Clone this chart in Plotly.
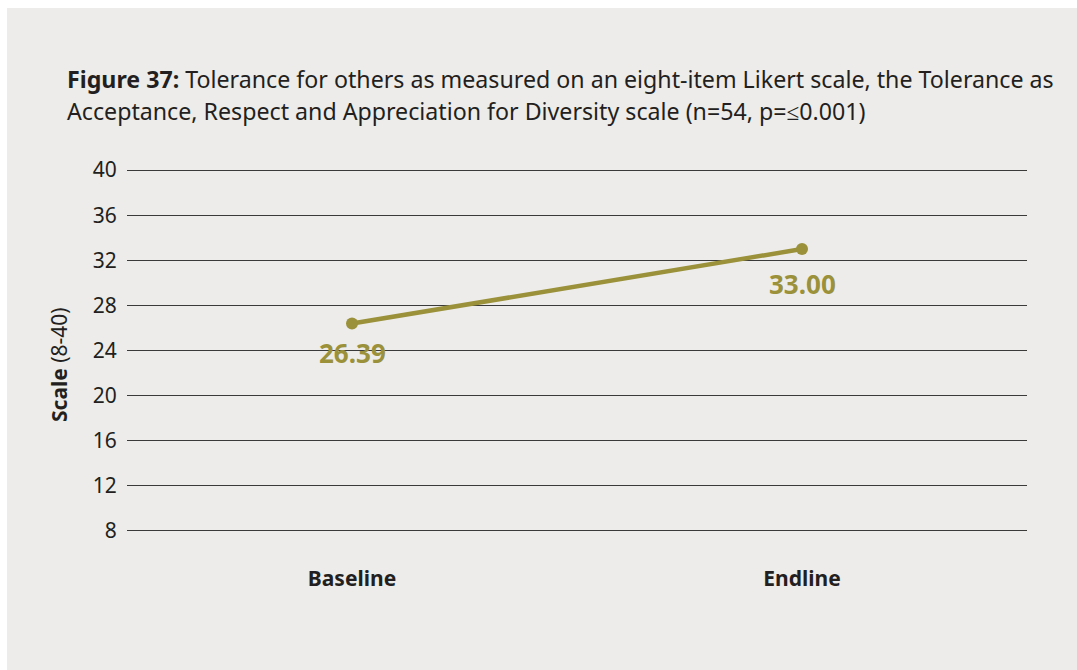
import plotly.graph_objects as go

categories = ["Baseline", "Endline"]
values = [26.39, 33.00]
value_labels = ["26.39", "33.00"]
y_ticks = [8, 12, 16, 20, 24, 28, 32, 36, 40]

W, H = 1077, 670
L, R, T, B = 127, 50, 169, 138
pw = W - L - R
ph = H - T - B

olive = "#9A913A"
dark = "#231F20"
font = "Noto Sans"

fig = go.Figure()
fig.add_trace(go.Scatter(
    x=[0, 1], y=values,
    mode="lines+markers",
    line=dict(color=olive, width=4.5),
    marker=dict(color=olive, size=12),
    hoverinfo="skip",
))

label_shifts = [-29, -35]
for i, (v, t) in enumerate(zip(values, value_labels)):
    fig.add_annotation(
        x=i, y=v, text=f"<b>{t}</b>", showarrow=False,
        xanchor="center", yanchor="middle", yshift=label_shifts[i],
        font=dict(family=font, size=26, color=olive),
    )

def px_x(p):
    return (p - L) / pw

def px_y(p):
    return 1 - (p - T) / ph

fig.add_shape(type="rect", xref="paper", yref="paper",
              x0=px_x(7), x1=px_x(W + 5), y0=px_y(H + 5), y1=px_y(8),
              fillcolor="#EDECEA", line=dict(width=0), layer="below")

title_lines = [
    "<b>Figure 37:</b> Tolerance for others as measured on an eight-item Likert scale, the Tolerance as",
    "Acceptance, Respect and Appreciation for Diversity scale (n=54, p=≤0.001)",
]
for j, line in enumerate(title_lines):
    fig.add_annotation(
        xref="paper", yref="paper", x=px_x(65), y=px_y(79 + 32 * j),
        xanchor="left", yanchor="middle", align="left", showarrow=False,
        text=line,
        font=dict(family=font, size=23.2, color=dark),
    )

fig.add_annotation(
    xref="paper", yref="paper", x=px_x(59), y=px_y(365),
    xanchor="center", yanchor="middle", textangle=-90, showarrow=False,
    text="<b>Scale</b> (8-40)",
    font=dict(family=font, size=21, color=dark),
)

fig.update_layout(
    width=W, height=H,
    margin=dict(l=L, r=R, t=T, b=B),
    paper_bgcolor="white",
    plot_bgcolor="rgba(0,0,0,0)",
    showlegend=False,
    xaxis=dict(
        range=[-0.5, 1.5],
        tickmode="array", tickvals=[0, 1], ticktext=categories,
        showgrid=False, zeroline=False, showline=False,
        ticks="outside", ticklen=28, tickcolor="rgba(0,0,0,0)",
        tickfont=dict(family=font, size=21, color=dark, weight="bold"),
        fixedrange=True,
    ),
    yaxis=dict(
        range=[7.9, 40.1],
        tickmode="array", tickvals=y_ticks,
        showgrid=True, gridcolor="#3A3A3A", gridwidth=1.2,
        zeroline=False, showline=False,
        ticks="outside", ticklen=5, tickcolor="rgba(0,0,0,0)",
        tickfont=dict(family=font, size=21, color=dark),
        fixedrange=True,
    ),
)

fig.write_html(
    "out.html",
    config={"displayModeBar": False},
    post_script="document.body.style.margin='0';document.body.style.overflow='hidden';",
)
